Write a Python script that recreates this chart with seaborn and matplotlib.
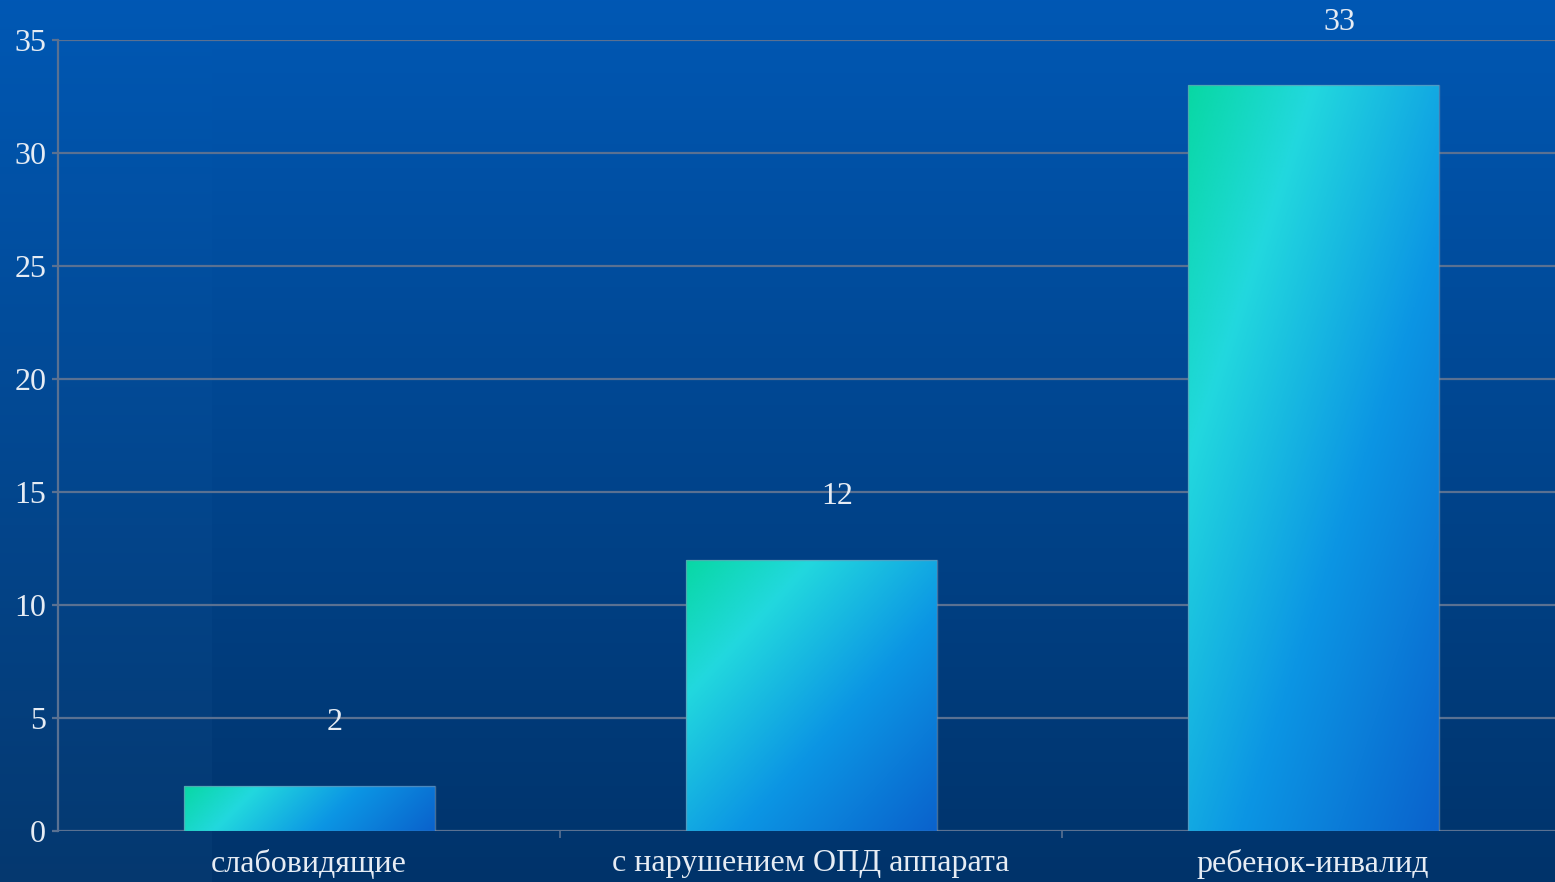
import matplotlib
matplotlib.use("Agg")
import matplotlib.pyplot as plt
import numpy as np
import pandas as pd
import seaborn as sns
from matplotlib.colors import LinearSegmentedColormap

categories = ["слабовидящие", "с нарушением ОПД аппарата", "ребенок-инвалид"]
values = [2, 12, 33]
y_ticks = [0, 5, 10, 15, 20, 25, 30, 35]

TEXT_COLOR = "#e6ecf4"
GRID_COLOR = "#5a7192"
FONT_SIZE = 23

sns.set_theme(style="white")
plt.rcParams["font.family"] = ["Liberation Serif", "DejaVu Serif"]

W, H = 1555, 882
fig = plt.figure(figsize=(W / 100, H / 100), dpi=100)

# background: vertical gradient plus a slightly lighter band on the left
bg_ax = fig.add_axes([0, 0, 1, 1], zorder=0)
top = np.array([0x00, 0x58, 0xb4]) / 255
bottom = np.array([0x00, 0x33, 0x6a]) / 255
rows = np.linspace(0, 1, 400)[:, None, None]
bg = top * (1 - rows) + bottom * rows
bg = np.repeat(bg, W, axis=1)
band = np.zeros((400, W, 3))
band[:, :212, :] = 0.02 * rows
bg = np.clip(bg + band, 0, 1)
bg_ax.imshow(bg, aspect="auto", extent=[0, 1, 0, 1])
bg_ax.set_axis_off()

ax = fig.add_axes([58 / W, 51 / H, 3 * 502 / W, 791 / H], zorder=1)
ax.patch.set_alpha(0)

df = pd.DataFrame({"category": categories, "value": values})
sns.barplot(data=df, x="category", y="value", color="#20c8e0", width=0.5, ax=ax, zorder=3)

# diagonal gradient fill for each bar (green top-left -> blue bottom-right)
cmap = LinearSegmentedColormap.from_list(
    "bar", [(0.0, "#08d8a4"), (0.25, "#22d8de"), (0.6, "#0c96e4"), (1.0, "#0a62cc")]
)
fig.canvas.draw()
u = np.linspace(0, 1, 200)
uu, vv = np.meshgrid(u, u)
for patch in ax.patches:
    x0, y0 = patch.get_x(), patch.get_y()
    w, h = patch.get_width(), patch.get_height()
    ext = patch.get_window_extent()
    wp = ext.width
    hp = min(ext.width, ext.height)
    grad = (uu * wp + vv * hp) / (wp + hp)
    patch.set_facecolor("none")
    patch.set_edgecolor((0.45, 0.58, 0.70, 0.6))
    patch.set_linewidth(1.0)
    patch.set_zorder(4)
    im = ax.imshow(grad, cmap=cmap, vmin=0, vmax=1, aspect="auto",
                   extent=[x0, x0 + w, y0, y0 + h], origin="upper", zorder=3)
    im.set_clip_path(patch)

for i, val in enumerate(values):
    ax.annotate(str(val), xy=(i, val), xytext=(26, 63), textcoords="offset pixels",
                ha="center", va="center", color=TEXT_COLOR, fontsize=FONT_SIZE)

ax.set_xlim(-0.5, 2.5)
ax.set_ylim(0, 35)
ax.set_yticks(y_ticks)
ax.grid(axis="y", color=GRID_COLOR, linewidth=1.6, zorder=1)
ax.set_axisbelow(True)
for side in ["top", "right", "bottom"]:
    ax.spines[side].set_visible(False)
ax.spines["left"].set_color(GRID_COLOR)
ax.spines["left"].set_linewidth(1.6)

ax.tick_params(axis="y", which="major", left=True, length=4.5, width=1.6, color=GRID_COLOR,
               labelsize=FONT_SIZE, labelcolor=TEXT_COLOR, pad=4)
ax.set_xticks([0.5, 1.5], minor=True)
ax.tick_params(axis="x", which="minor", bottom=True, length=5, width=1.2, color=GRID_COLOR)
ax.tick_params(axis="x", which="major", bottom=False, length=0,
               labelsize=FONT_SIZE, labelcolor=TEXT_COLOR, pad=13)
ax.set_xlabel("")
ax.set_ylabel("")

fig.savefig("out.png", dpi=100)
